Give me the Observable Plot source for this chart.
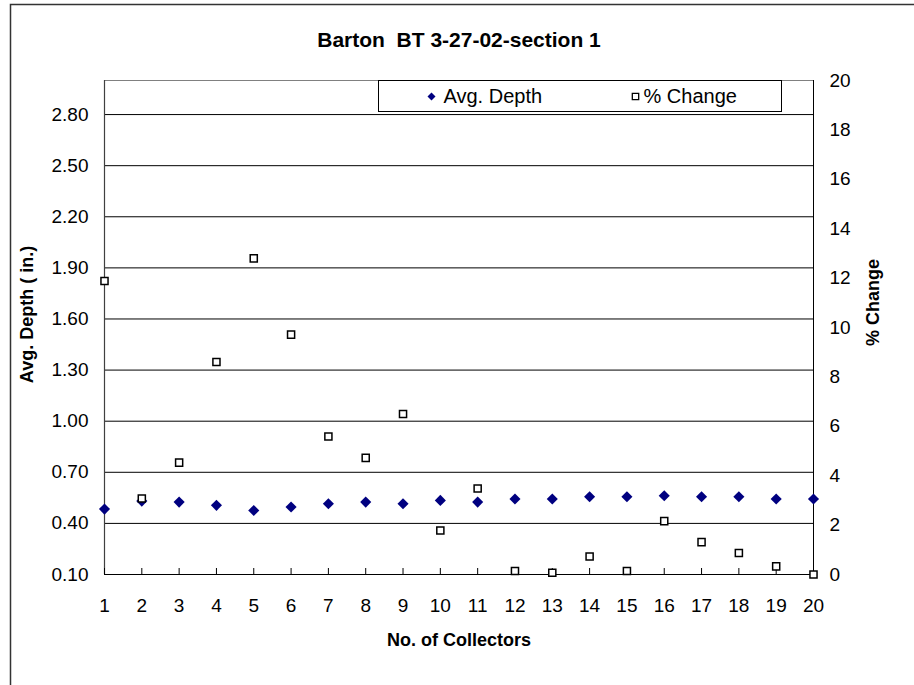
<!DOCTYPE html>
<html>
<head>
<meta charset="utf-8">
<script src="https://cdn.jsdelivr.net/npm/d3@7"></script>
<script src="https://cdn.jsdelivr.net/npm/@observablehq/plot@0.6"></script>
<style>
  html, body { margin: 0; padding: 0; overflow: hidden; background: white; }
</style>
</head>
<body>
<div id="chart"></div>
<script>
const collectors = [1,2,3,4,5,6,7,8,9,10,11,12,13,14,15,16,17,18,19,20];
const avgDepth = [0.484,0.531,0.525,0.506,0.476,0.496,0.515,0.525,0.515,0.535,0.525,0.543,0.543,0.556,0.556,0.562,0.556,0.556,0.543,0.543];
const pctChange = [11.88,3.08,4.53,8.60,12.80,9.71,5.59,4.72,6.50,1.78,3.48,0.14,0.07,0.73,0.14,2.16,1.31,0.87,0.33,0.0];
const leftTicks = [0.10,0.40,0.70,1.00,1.30,1.60,1.90,2.20,2.50,2.80];
const rightTicks = [0,2,4,6,8,10,12,14,16,18,20];
const leftDomain = [0.1, 3.0];
const rightDomain = [0, 20];

// map the % Change (right axis) onto the left scale
const toLeft = v => leftDomain[0] + (v - rightDomain[0]) * (leftDomain[1] - leftDomain[0]) / (rightDomain[1] - rightDomain[0]);

const depthData = collectors.map((c, i) => ({c, v: avgDepth[i]}));
const pctData = collectors.map((c, i) => ({c, v: toLeft(pctChange[i])}));

const font = "'Liberation Sans', Arial, sans-serif";

const chart = Plot.plot({
  width: 914,
  height: 685,
  marginLeft: 104,
  marginRight: 101,
  marginTop: 80,
  marginBottom: 111,
  style: {fontFamily: font, fontSize: "19px", background: "white", color: "black", overflow: "hidden"},
  x: {domain: [1, 20], label: null},
  y: {domain: leftDomain, label: null},
  marks: [
    // outer chart border
    Plot.frame({stroke: "#333", strokeWidth: 1.5, insetLeft: -94, insetTop: -76, insetRight: -140, insetBottom: -160}),
    // gridlines
    Plot.ruleY(leftTicks.slice(1), {stroke: "#000", strokeWidth: 1}),
    // plot border
    Plot.frame({stroke: "#808080", strokeWidth: 1}),
    Plot.ruleX([1], {stroke: "#404040", strokeWidth: 1.2}),
    Plot.ruleX([20], {stroke: "#000", strokeWidth: 1}),
    Plot.ruleY([0.1], {stroke: "#000", strokeWidth: 1.2}),
    // axes
    Plot.axisY({ticks: leftTicks, tickFormat: d => d.toFixed(2), tickSize: 0, tickPadding: 16, label: null}),
    Plot.axisY({anchor: "right", ticks: rightTicks.map(toLeft), tickFormat: (d, i) => String(rightTicks[i]), tickSize: 0, tickPadding: 16, label: null}),
    Plot.axisX({ticks: collectors, tickFormat: d => String(d), tickSize: 6, dy: -6, tickPadding: 24, label: null, stroke: "#000"}),
    // series
    Plot.dot(depthData, {x: "c", y: "v", symbol: "diamond2", r: 5, fill: "#000080", stroke: "none"}),
    Plot.dot(pctData, {x: "c", y: "v", symbol: "square", r: 4, fill: "white", stroke: "#000", strokeWidth: 1.5}),
    // legend
    Plot.frame({stroke: "#000", fill: "white", strokeWidth: 1, insetLeft: 274, insetRight: 32, insetBottom: 463}),
    Plot.dot([0], {frameAnchor: "top-left", dx: 327, dy: 16, symbol: "diamond2", r: 3.6, fill: "#000080", stroke: "none"}),
    Plot.text(["Avg. Depth"], {frameAnchor: "top-left", dx: 339, dy: 16, textAnchor: "start", lineAnchor: "middle", fontSize: 20}),
    Plot.dot([0], {frameAnchor: "top-left", dx: 531, dy: 16, symbol: "square", r: 3.6, fill: "white", stroke: "#000", strokeWidth: 1.3}),
    Plot.text(["% Change"], {frameAnchor: "top-left", dx: 539, dy: 16, textAnchor: "start", lineAnchor: "middle", fontSize: 20}),
    // titles
    Plot.text(["Barton\u00a0 BT 3-27-02-section 1"], {frameAnchor: "top", dy: -40, lineAnchor: "middle", textAnchor: "middle", fontSize: 21, fontWeight: "bold"}),
    Plot.text(["No. of Collectors"], {frameAnchor: "bottom", dy: 66, lineAnchor: "middle", textAnchor: "middle", fontSize: 18, fontWeight: "bold"}),
    Plot.text(["Avg. Depth ( in.)"], {frameAnchor: "left", dx: -77, dy: -13, rotate: -90, lineAnchor: "middle", textAnchor: "middle", fontSize: 18, fontWeight: "bold"}),
    Plot.text(["% Change"], {frameAnchor: "right", dx: 60, dy: -25, rotate: -90, lineAnchor: "middle", textAnchor: "middle", fontSize: 18, fontWeight: "bold"})
  ]
});
document.getElementById("chart").appendChild(chart);
</script>
</body>
</html>
